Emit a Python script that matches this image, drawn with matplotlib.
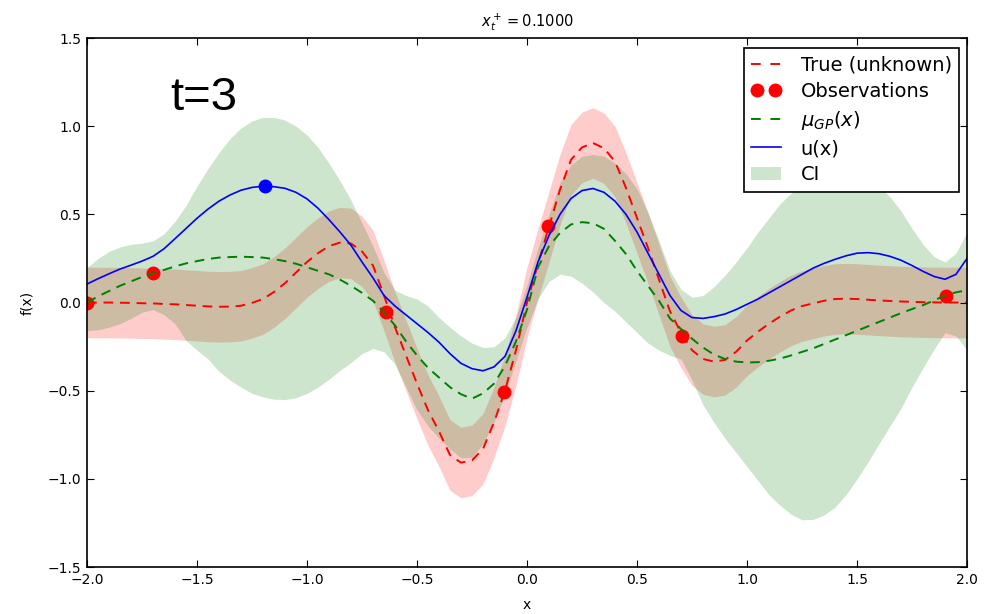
import matplotlib
matplotlib.use("Agg")
import matplotlib.pyplot as plt
from matplotlib.lines import Line2D
from matplotlib.patches import Patch
from matplotlib.legend_handler import HandlerLine2D
import numpy as np

x_grid = np.round(np.linspace(-2.0, 2.0, 81), 2)

true_f = [0.0, 0.0, 0.0, -0.001, -0.002, -0.004, -0.005, -0.008, -0.01, -0.014,
          -0.018, -0.022, -0.024, -0.023, -0.018, -0.002, 0.02, 0.06, 0.11, 0.17,
          0.23, 0.28, 0.32, 0.34, 0.335, 0.29, 0.21, 0.04, -0.14, -0.30,
          -0.46, -0.61, -0.73, -0.865, -0.908, -0.895, -0.83, -0.68, -0.50, -0.27,
          0.0, 0.22, 0.43, 0.64, 0.81, 0.88, 0.905, 0.875, 0.80, 0.65,
          0.48, 0.31, 0.13, -0.05, -0.17, -0.27, -0.32, -0.335, -0.325, -0.28,
          -0.215, -0.165, -0.12, -0.08, -0.045, -0.02, -0.005, 0.01, 0.02, 0.022,
          0.02, 0.016, 0.012, 0.009, 0.006, 0.004, 0.002, 0.001, 0.0, 0.0, 0.0]

mu_gp = [0.0, 0.035, 0.065, 0.095, 0.12, 0.145, 0.165, 0.185, 0.205, 0.222,
         0.235, 0.247, 0.255, 0.258, 0.26, 0.258, 0.255, 0.246, 0.235, 0.22,
         0.2, 0.18, 0.16, 0.13, 0.095, 0.055, 0.01, -0.055, -0.13, -0.22,
         -0.30, -0.37, -0.425, -0.48, -0.52, -0.545, -0.515, -0.46, -0.36, -0.22,
         -0.04, 0.20, 0.32, 0.395, 0.443, 0.456, 0.45, 0.418, 0.35, 0.275,
         0.18, 0.095, 0.01, -0.09, -0.15, -0.205, -0.255, -0.295, -0.32, -0.335,
         -0.34, -0.338, -0.33, -0.318, -0.30, -0.28, -0.26, -0.235, -0.21, -0.185,
         -0.16, -0.135, -0.11, -0.085, -0.06, -0.037, -0.015, 0.012, 0.04, 0.058, 0.07]

u_x = [0.105, 0.135, 0.163, 0.19, 0.212, 0.235, 0.262, 0.305, 0.362, 0.42,
       0.478, 0.53, 0.575, 0.61, 0.637, 0.653, 0.66, 0.657, 0.648, 0.625,
       0.588, 0.535, 0.47, 0.40, 0.325, 0.23, 0.14, 0.04, -0.02, -0.07,
       -0.12, -0.17, -0.225, -0.29, -0.345, -0.375, -0.387, -0.365, -0.305, -0.16,
       0.03, 0.23, 0.38, 0.50, 0.59, 0.635, 0.647, 0.625, 0.575, 0.50,
       0.40, 0.28, 0.16, 0.04, -0.045, -0.085, -0.09, -0.08, -0.065, -0.04,
       -0.01, 0.02, 0.055, 0.09, 0.125, 0.16, 0.195, 0.222, 0.245, 0.265,
       0.28, 0.283, 0.277, 0.262, 0.24, 0.21, 0.177, 0.148, 0.132, 0.16, 0.25]

ci_hi = [0.20, 0.25, 0.29, 0.315, 0.33, 0.337, 0.35, 0.39, 0.46, 0.55,
         0.66, 0.76, 0.85, 0.93, 0.99, 1.03, 1.05, 1.05, 1.035, 1.0,
         0.95, 0.88, 0.79, 0.69, 0.58, 0.45, 0.32, 0.17, 0.07, 0.04,
         0.02, -0.02, -0.085, -0.14, -0.19, -0.23, -0.255, -0.25, -0.20, -0.08,
         0.10, 0.31, 0.50, 0.68, 0.78, 0.83, 0.84, 0.83, 0.79, 0.73,
         0.645, 0.51, 0.35, 0.18, 0.075, 0.03, 0.04, 0.09, 0.155, 0.23,
         0.31, 0.40, 0.48, 0.56, 0.62, 0.66, 0.69, 0.71, 0.72, 0.72,
         0.71, 0.69, 0.66, 0.60, 0.52, 0.42, 0.33, 0.26, 0.23, 0.28, 0.40]

ci_lo = [-0.16, -0.155, -0.14, -0.12, -0.09, -0.055, -0.04, -0.07, -0.12, -0.215,
         -0.27, -0.32, -0.39, -0.44, -0.48, -0.515, -0.535, -0.548, -0.55, -0.54,
         -0.515, -0.48, -0.435, -0.385, -0.34, -0.29, -0.26, -0.28, -0.35, -0.48,
         -0.61, -0.70, -0.77, -0.83, -0.88, -0.88, -0.80, -0.68, -0.52, -0.33,
         -0.14, 0.02, 0.12, 0.16, 0.15, 0.11, 0.06, 0.0, -0.05, -0.11,
         -0.17, -0.23, -0.27, -0.30, -0.32, -0.44, -0.58, -0.68, -0.77, -0.85,
         -0.93, -1.01, -1.09, -1.15, -1.20, -1.232, -1.23, -1.205, -1.16, -1.09,
         -1.00, -0.905, -0.80, -0.70, -0.60, -0.48, -0.37, -0.265, -0.17, -0.19, -0.27]

noise_band = 0.2  # half-width of the shaded band around the true function

obs_x = [-2.0, -1.7, -0.64, -0.105, 0.095, 0.705, 1.905]
obs_y = [0.0, 0.167, -0.054, -0.508, 0.434, -0.19, 0.037]

next_x = [-1.19]
next_y = [0.66]

title_text = r"$x_t^+ = 0.1000$"
step_text = "t=3"
legend_labels = ["True (unknown)", "Observations", r"$\mu_{GP}(x)$", "u(x)", "CI"]
x_ticks = [-2.0, -1.5, -1.0, -0.5, 0.0, 0.5, 1.0, 1.5, 2.0]
y_ticks = [-1.5, -1.0, -0.5, 0.0, 0.5, 1.0, 1.5]

# ---------------- plot ----------------
RED = (1, 0, 0)
GREEN = (0, 0.5, 0)
BLUE = (0, 0, 1)

plt.rcParams['font.family'] = ['DejaVu Sans']
fig = plt.figure(figsize=(10, 6.14), dpi=100)
ax = fig.add_axes([0.087, 0.0765, 0.88, 0.8615])

xg = np.array(x_grid)
tf = np.array(true_f)

ax.fill_between(xg, tf - noise_band, tf + noise_band, color=RED,
                alpha=0.2, linewidth=0)
ax.fill_between(xg, ci_lo, ci_hi, color=GREEN, alpha=0.2, linewidth=0)

ax.plot(xg, tf, '--', color=RED, lw=1.4, dashes=(5, 3.5))
ax.plot(obs_x, obs_y, 'o', color=RED, ms=9, mec=RED)
ax.plot(xg, mu_gp, '--', color=GREEN, lw=1.4, dashes=(5, 3.5))
ax.plot(xg, u_x, '-', color=BLUE, lw=1.2)
ax.plot(next_x, next_y, 'o', color=BLUE, ms=9, mec=BLUE)

ax.set_xlim(-2, 2)
ax.set_ylim(-1.5, 1.5)
ax.set_xticks(x_ticks)
ax.set_yticks(y_ticks)
ax.tick_params(direction='in', top=True, right=True, length=5,
               labelsize=10, pad=4)
for s in ax.spines.values():
    s.set_linewidth(1.2)

ax.set_xlabel("x", fontsize=10, labelpad=8)
ax.set_ylabel("f(x)", fontsize=10, labelpad=10)
ax.set_title(title_text, fontsize=10.5, pad=8)

ax.text(-1.62, 1.09, step_text, fontsize=34, family=['Liberation Sans'],
        va='baseline', ha='left')

h_true = Line2D([], [], color=RED, lw=1.4, dashes=(5, 5))
h_obs = Line2D([], [], color=RED, marker='o', ms=9, ls='none')
h_mu = Line2D([], [], color=GREEN, lw=1.4, dashes=(5, 5))
h_u = Line2D([], [], color=BLUE, lw=1.2)
h_ci = Patch(facecolor=GREEN, alpha=0.2, edgecolor='none')
one = HandlerLine2D(numpoints=1)
leg = ax.legend([h_true, h_obs, h_mu, h_u, h_ci], legend_labels,
                loc='upper right', numpoints=2, fontsize=14, fancybox=False,
                framealpha=1, edgecolor='black', borderaxespad=0.4,
                labelspacing=0.38, handlelength=1.55, handletextpad=1.0,
                borderpad=0.38, bbox_to_anchor=(1.0, 0.995),
                handler_map={h_true: one, h_mu: one, h_u: one})
leg.get_frame().set_linewidth(1.2)

fig.savefig("out.png", dpi=100)
